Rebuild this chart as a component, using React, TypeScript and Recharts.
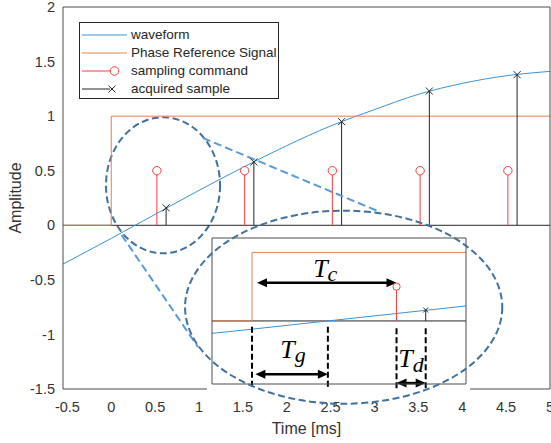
import React from "react"
import {
  ComposedChart,
  Line,
  XAxis,
  YAxis,
  ReferenceLine,
  ReferenceArea,
  ReferenceDot,
  Legend,
} from "recharts"

const W = 551
const H = 443
const FONT = '"Liberation Sans", Arial, Helvetica, sans-serif'
const MATH_FONT = '"Liberation Serif", "DejaVu Serif", serif'

const BLUE = "#3a93d4"
const ORANGE = "#e4804f"
const RED = "#ff3d3d"
const BLACK = "#262626"
const AXIS = "#4d4d4d"
const TXT = "#333333"
const RING = "#41719c"
const LINK = "#5b9bd5"

// waveform (time in ms, amplitude)
const WAVE_T = [-0.55, 0, 0.5, 1, 1.5, 2, 2.5, 3, 3.5, 4, 4.5, 5]
const WAVE_V = [-0.355, -0.12, 0.1, 0.32, 0.53, 0.73, 0.91, 1.06, 1.2, 1.3, 1.37, 1.41]

// phase reference step
const PHASE_T = [-0.55, 0, 0, 5]
const PHASE_V = [0, 0, 1, 1]

// sampling commands and acquired samples
const CMD_T = [0.52, 1.52, 2.52, 3.52, 4.52]
const CMD_LEVEL = 0.5
const ACQ_T = [0.625, 1.625, 2.625, 3.625, 4.625]
const ACQ_V = [0.16, 0.58, 0.95, 1.23, 1.38]

const X_DOMAIN = [-0.55, 5]
const Y_DOMAIN = [-1.5, 2]
const X_TICKS = [-0.5, 0, 0.5, 1, 1.5, 2, 2.5, 3, 3.5, 4, 4.5, 5]
const Y_TICKS = [-1.5, -1, -0.5, 0, 0.5, 1, 1.5, 2]

// zoomed inset
const INSET_X_DOMAIN = [-0.144, 0.77]
const INSET_Y_DOMAIN = [-0.92, 1.21]
const INSET_X_TICKS = [0, 0.2, 0.4, 0.6]
const INSET_Y_TICKS = [-0.5, 0, 0.5, 1]
const T_G_END = 0.273

const LEGEND_NAMES = ["waveform", "Phase Reference Signal", "sampling command", "acquired sample"]

const wave = WAVE_T.map((x, i) => ({ x, y: WAVE_V[i] }))
const phase = PHASE_T.map((x, i) => ({ x, y: PHASE_V[i] }))
const stems = (ts: number[], vs: number[]) =>
  ts.flatMap((x, i) => [
    { x, y: 0 },
    { x, y: vs[i], tip: true },
    { x, y: null },
  ])
const cmdStems = stems(CMD_T, CMD_T.map(() => CMD_LEVEL))
const acqStems = stems(ACQ_T, ACQ_V)

const circleDot = (r: number) => (p: any) =>
  p.payload && p.payload.tip ? (
    <circle key={p.index} cx={p.cx} cy={p.cy} r={r} fill="#fff" stroke={RED} strokeWidth={1} />
  ) : (
    <g key={p.index} />
  )

const crossDot = (s: number) => (p: any) =>
  p.payload && p.payload.tip ? (
    <path
      key={p.index}
      d={`M${p.cx - s},${p.cy - s}L${p.cx + s},${p.cy + s}M${p.cx - s},${p.cy + s}L${p.cx + s},${p.cy - s}`}
      stroke={BLACK}
      strokeWidth={1}
    />
  ) : (
    <g key={p.index} />
  )

const ellipse = (p: any) => (
  <ellipse
    cx={p.x + p.width / 2}
    cy={p.y + p.height / 2}
    rx={Math.abs(p.width) / 2}
    ry={Math.abs(p.height) / 2}
    fill="none"
    stroke={RING}
    strokeWidth={2}
    strokeDasharray="7 3.5"
  />
)

const arrow = (p: any) => {
  const { x1, y1, x2, y2 } = p
  const d = Math.sign(x2 - x1)
  const len = 10
  const half = 4.5
  return (
    <g>
      <line x1={x1 + d * 6} y1={y1} x2={x2 - d * 6} y2={y2} stroke="#000" strokeWidth={2.5} />
      <polygon points={`${x1},${y1} ${x1 + d * len},${y1 - half} ${x1 + d * len},${y1 + half}`} fill="#000" />
      <polygon points={`${x2},${y2} ${x2 - d * len},${y2 - half} ${x2 - d * len},${y2 + half}`} fill="#000" />
    </g>
  )
}

const mathLabel = (main: string, sub: string, subDy: number) => (p: any) => (
  <text x={p.cx} y={p.cy} fontFamily={MATH_FONT} fontStyle="italic" fontSize={26} fill="#000">
    {main}
    <tspan fontSize={22} dy={subDy}>
      {sub}
    </tspan>
  </text>
)

const legendIcon = (i: number) => {
  if (i === 0) return <line x1={2} y1={9} x2={47} y2={9} stroke={BLUE} strokeWidth={1} />
  if (i === 1) return <line x1={2} y1={9} x2={47} y2={9} stroke={ORANGE} strokeWidth={1} />
  if (i === 2)
    return (
      <g>
        <line x1={2} y1={9} x2={30} y2={9} stroke={RED} strokeWidth={1} />
        <circle cx={34.5} cy={9} r={4.3} fill="#fff" stroke={RED} strokeWidth={1} />
      </g>
    )
  return (
    <g>
      <line x1={2} y1={9} x2={30} y2={9} stroke={BLACK} strokeWidth={1} />
      <path d="M28.5,5.5L35.5,12.5M28.5,12.5L35.5,5.5" stroke={BLACK} strokeWidth={1} />
    </g>
  )
}

const LegendBox = () => (
  <div
    style={{
      width: 200,
      height: 77,
      boxSizing: "border-box",
      border: `1px solid ${BLACK}`,
      background: "#fff",
      paddingTop: 3,
    }}
  >
    {LEGEND_NAMES.map((name, i) => (
      <div key={name} style={{ height: 18, display: "flex", alignItems: "center" }}>
        <svg width={51} height={18} style={{ flex: "none" }}>
          {legendIcon(i)}
        </svg>
        <span style={{ fontSize: 13.5, fontFamily: FONT, color: BLACK, whiteSpace: "nowrap", lineHeight: "18px" }}>
          {name}
        </span>
      </div>
    ))}
  </div>
)

const tickStyle = { fill: TXT, fontSize: 14.5, fontFamily: FONT }

const MainChart = () => (
  <ComposedChart width={W} height={H} margin={{ top: 7, right: 1, bottom: 0, left: 0 }}>
    <XAxis
      type="number"
      dataKey="x"
      domain={X_DOMAIN}
      ticks={X_TICKS}
      interval={0}
      allowDataOverflow
      height={54}
      tickLine={false}
      tickSize={0}
      tickMargin={13}
      axisLine={{ stroke: AXIS }}
      tick={tickStyle}
      label={{ value: "Time [ms]", position: "insideBottom", offset: 9, fill: TXT, fontSize: 16, fontFamily: FONT }}
    />
    <XAxis xAxisId="xb" type="number" domain={X_DOMAIN} ticks={X_TICKS} interval={0} allowDataOverflow mirror tick={false} axisLine={false} tickSize={5} tickLine={{ stroke: AXIS }} />
    <XAxis xAxisId="xt" orientation="top" type="number" domain={X_DOMAIN} ticks={X_TICKS} interval={0} allowDataOverflow mirror tick={false} axisLine={{ stroke: AXIS }} tickSize={5} tickLine={{ stroke: AXIS }} />
    <YAxis
      type="number"
      domain={Y_DOMAIN}
      ticks={Y_TICKS}
      interval={0}
      allowDataOverflow
      width={63}
      tickLine={false}
      tickSize={0}
      tickMargin={8}
      axisLine={{ stroke: AXIS }}
      tick={tickStyle}
      label={{ value: "Amplitude", angle: -90, position: "center", dx: -16, fill: TXT, fontSize: 16, fontFamily: FONT }}
    />
    <YAxis yAxisId="yl" type="number" domain={Y_DOMAIN} ticks={Y_TICKS} interval={0} allowDataOverflow mirror tick={false} axisLine={false} tickSize={5} tickLine={{ stroke: AXIS }} />
    <YAxis yAxisId="yr" orientation="right" type="number" domain={Y_DOMAIN} ticks={Y_TICKS} interval={0} allowDataOverflow mirror tick={false} axisLine={{ stroke: AXIS }} tickSize={5} tickLine={{ stroke: AXIS }} />

    <ReferenceLine y={0} stroke={BLACK} strokeWidth={1} />
    <Line data={wave} dataKey="y" type="monotone" stroke={BLUE} strokeWidth={1} dot={false} isAnimationActive={false} />
    <Line data={phase} dataKey="y" type="linear" stroke={ORANGE} strokeWidth={1} dot={false} isAnimationActive={false} />
    <Line data={cmdStems} dataKey="y" type="linear" stroke={RED} strokeWidth={1} dot={circleDot(4.2)} isAnimationActive={false} />
    <Line data={acqStems} dataKey="y" type="linear" stroke={BLACK} strokeWidth={1} dot={crossDot(3.5)} isAnimationActive={false} />

    <ReferenceArea x1={-0.06} x2={1.24} y1={-0.257} y2={0.99} ifOverflow="visible" shape={ellipse} />
    <ReferenceLine segment={[{ x: 1.045, y: 0.8 }, { x: 3.062, y: 0.122 }]} ifOverflow="visible" stroke={LINK} strokeWidth={2} strokeDasharray="8 4" />
    <ReferenceLine segment={[{ x: 0.118, y: -0.089 }, { x: 0.988, y: -1.115 }]} ifOverflow="visible" stroke={LINK} strokeWidth={2} strokeDasharray="8 4" />

    <Legend
      layout="vertical"
      align="center"
      verticalAlign="middle"
      wrapperStyle={{ left: 79, top: 22, width: 200, height: 77 }}
      content={() => <LegendBox />}
    />
  </ComposedChart>
)

const InsetChart = () => (
  <ComposedChart width={263} height={158} margin={{ top: 5, right: 4, bottom: 7, left: 5 }}>
    <XAxis type="number" dataKey="x" domain={INSET_X_DOMAIN} ticks={INSET_X_TICKS} interval={0} allowDataOverflow mirror tick={false} tickSize={3} axisLine={{ stroke: AXIS }} tickLine={{ stroke: AXIS }} />
    <XAxis xAxisId="t" orientation="top" type="number" domain={INSET_X_DOMAIN} ticks={INSET_X_TICKS} interval={0} allowDataOverflow mirror tick={false} tickSize={3} axisLine={{ stroke: AXIS }} tickLine={{ stroke: AXIS }} />
    <YAxis type="number" domain={INSET_Y_DOMAIN} ticks={INSET_Y_TICKS} interval={0} allowDataOverflow mirror tick={false} tickSize={3} axisLine={{ stroke: AXIS }} tickLine={{ stroke: AXIS }} />
    <YAxis yAxisId="r" orientation="right" type="number" domain={INSET_Y_DOMAIN} ticks={INSET_Y_TICKS} interval={0} allowDataOverflow mirror tick={false} tickSize={3} axisLine={{ stroke: AXIS }} tickLine={{ stroke: AXIS }} />

    <ReferenceLine y={0} stroke={BLACK} strokeWidth={1} />
    <Line data={wave} dataKey="y" type="monotone" stroke={BLUE} strokeWidth={1} dot={false} isAnimationActive={false} />
    <Line data={phase} dataKey="y" type="linear" stroke={ORANGE} strokeWidth={1} dot={false} isAnimationActive={false} />
    <Line data={cmdStems} dataKey="y" type="linear" stroke={RED} strokeWidth={1} dot={circleDot(3.6)} isAnimationActive={false} />
    <Line data={acqStems} dataKey="y" type="linear" stroke={BLACK} strokeWidth={1} dot={crossDot(2.5)} isAnimationActive={false} />

    <ReferenceLine segment={[{ x: 0, y: -0.083 }, { x: 0, y: -0.96 }]} ifOverflow="visible" stroke="#000" strokeWidth={2} strokeDasharray="6 3" />
    <ReferenceLine segment={[{ x: T_G_END, y: -0.083 }, { x: T_G_END, y: -0.96 }]} ifOverflow="visible" stroke="#000" strokeWidth={2} strokeDasharray="6 3" />
    <ReferenceLine segment={[{ x: CMD_T[0], y: -0.106 }, { x: CMD_T[0], y: -0.994 }]} ifOverflow="visible" stroke="#000" strokeWidth={2} strokeDasharray="6 3" />
    <ReferenceLine segment={[{ x: ACQ_T[0], y: -0.106 }, { x: ACQ_T[0], y: -0.994 }]} ifOverflow="visible" stroke="#000" strokeWidth={2} strokeDasharray="6 3" />

    <ReferenceLine segment={[{ x: 0.018, y: 0.557 }, { x: CMD_T[0], y: 0.557 }]} ifOverflow="visible" shape={arrow} />
    <ReferenceLine segment={[{ x: 0.012, y: -0.776 }, { x: T_G_END, y: -0.776 }]} ifOverflow="visible" shape={arrow} />
    <ReferenceLine segment={[{ x: CMD_T[0], y: -0.907 }, { x: ACQ_T[0], y: -0.907 }]} ifOverflow="visible" shape={arrow} />

    <ReferenceDot x={0.22} y={0.64} ifOverflow="visible" shape={mathLabel("T", "c", 4)} />
    <ReferenceDot x={0.102} y={-0.539} ifOverflow="visible" shape={mathLabel("T", "g", 4)} />
    <ReferenceDot x={0.526} y={-0.67} ifOverflow="visible" shape={mathLabel("T", "d", 5)} />
  </ComposedChart>
)

// transparent layer on top of the inset, same scales as the main chart
const OverlayChart = () => (
  <ComposedChart width={W} height={H} data={wave} margin={{ top: 7, right: 1, bottom: 54, left: 63 }}>
    <XAxis type="number" dataKey="x" domain={X_DOMAIN} allowDataOverflow hide />
    <YAxis type="number" domain={Y_DOMAIN} allowDataOverflow hide />
    <Line dataKey="y" stroke="none" dot={false} isAnimationActive={false} />
    <ReferenceArea x1={0.841} x2={4.456} y1={-1.635} y2={0.134} ifOverflow="visible" shape={ellipse} />
  </ComposedChart>
)

export default function App() {
  return (
    <div style={{ position: "absolute", left: 0, top: 0, width: W, height: H, background: "#fff", overflow: "hidden" }}>
      <MainChart />
      <div style={{ position: "absolute", left: 207, top: 233, width: 263, height: 158, background: "#fff" }}>
        <InsetChart />
      </div>
      <div style={{ position: "absolute", left: 0, top: 0, pointerEvents: "none" }}>
        <OverlayChart />
      </div>
    </div>
  )
}
